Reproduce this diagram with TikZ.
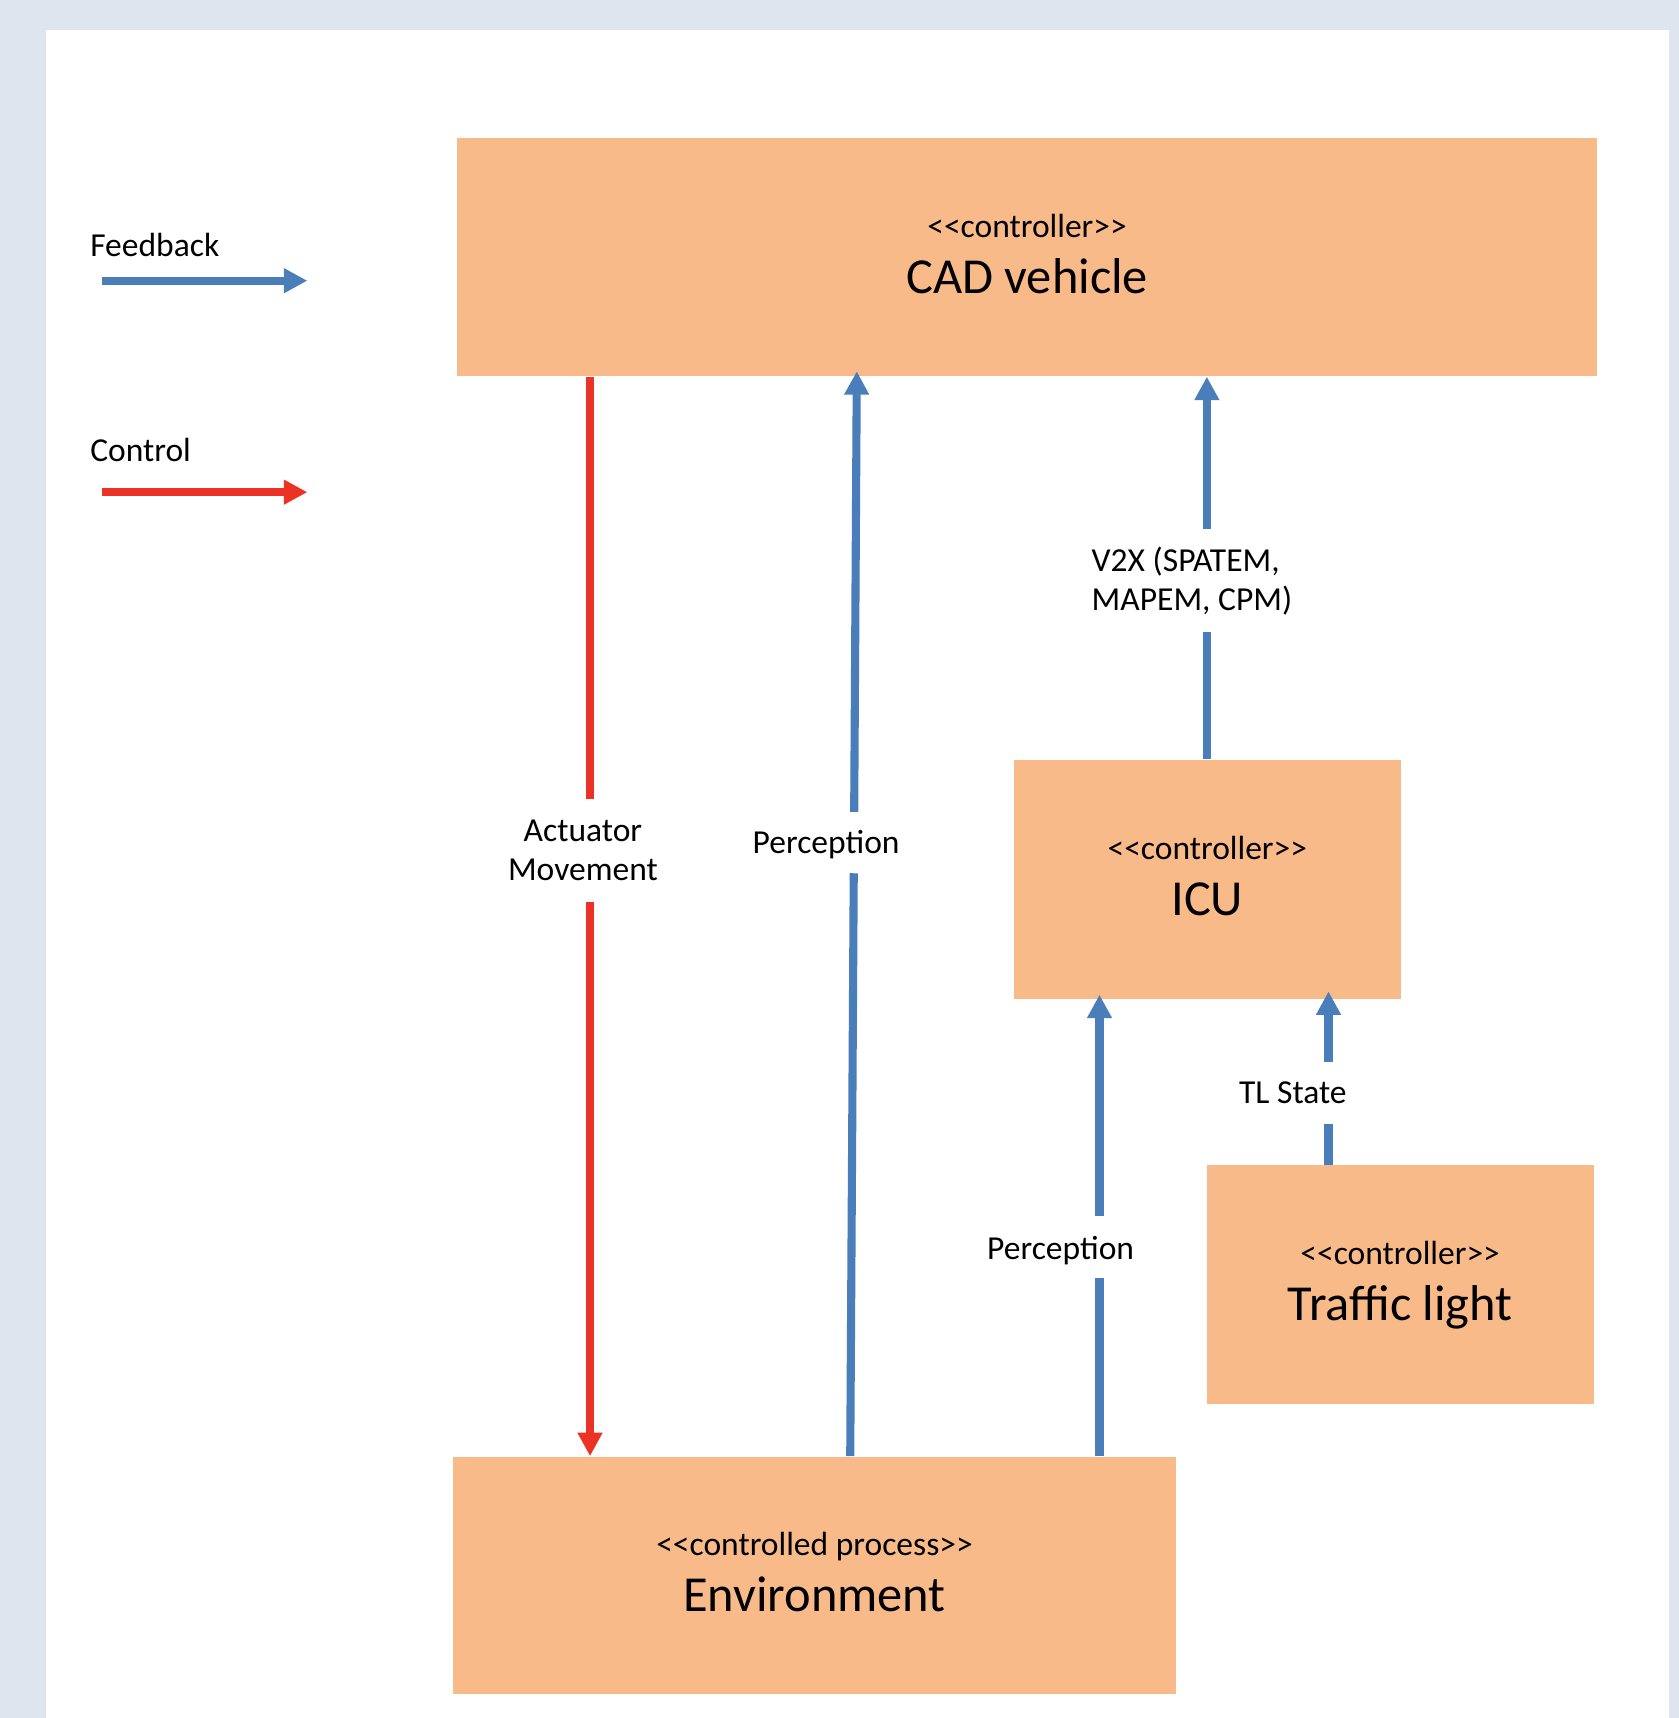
\documentclass[tikz,border=0pt]{standalone}
\usepackage{fontspec}
\setmainfont{Carlito}
\usetikzlibrary{arrows.meta,calc}
\definecolor{bgc}{RGB}{223,229,238}
\definecolor{peach}{RGB}{249,186,138}
\definecolor{fbblue}{RGB}{74,126,187}
\definecolor{ctred}{RGB}{236,50,36}
\begin{document}
\begin{tikzpicture}[x=0.5pt,y=-0.5pt,
  box/.style={fill=peach, draw=none, inner sep=0pt, anchor=north west},
  smalltxt/.style={font=\fontsize{15.3}{18}\selectfont, inner sep=0pt, anchor=base},
  bigtxt/.style={font=\fontsize{23}{27}\selectfont, inner sep=0pt, anchor=base},
  fbl/.style={draw=fbblue, line width=3.7pt},
  ctl/.style={draw=ctred, line width=3.6pt},
  arr/.style={-{Triangle[length=10.7pt,width=10.7pt]}}
]
% background and panel
\fill[bgc] (0,0) rectangle (1532,1568);
\fill[white] (42,27) rectangle (1523,1568);

% boxes
\node[box, minimum width=520pt, minimum height=108.5pt] (cad) at (417,126) {};
\node[box, minimum width=176.5pt, minimum height=109pt] (icu) at (925,693) {};
\node[box, minimum width=176.5pt, minimum height=109pt] (tl) at (1101,1063) {};
\node[box, minimum width=330pt, minimum height=108.5pt] (env) at (413,1329) {};

% box texts
\node[smalltxt] (cadst) at ([yshift=9pt]cad.center) {<{}<controller>{}>};
\node[bigtxt] (cadname) at ([yshift=-16.5pt]cad.center) {CAD vehicle};
\node[smalltxt] (icust) at ([yshift=9pt]icu.center) {<{}<controller>{}>};
\node[bigtxt] (icuname) at ([yshift=-16.5pt]icu.center) {ICU};
\node[smalltxt] (tlst) at ([yshift=9pt]tl.center) {<{}<controller>{}>};
\node[bigtxt] (tlname) at ([yshift=-16.5pt]tl.center) {Traffic light};
\node[smalltxt] (envst) at ([yshift=9pt]env.center) {<{}<controlled process>{}>};
\node[bigtxt] (envname) at ([yshift=-16.5pt]env.center) {Environment};

% legend
\node[smalltxt, anchor=base west] (fbtxt) at (82,234.2) {Feedback};
\node[smalltxt, anchor=base west] (cttxt) at (82,421.2) {Control};
\coordinate (fbA) at (92.9,256.2);
\coordinate (fbB) at (280.5,256.2);
\coordinate (ctA) at (92.9,449.2);
\coordinate (ctB) at (280.5,449.2);
\draw[fbl, arr] (fbA) -- (fbB);
\draw[ctl, arr] (ctA) -- (ctB);

% connector labels
\node[smalltxt] (act) at (532,768) {\begin{tabular}[t]{@{}c@{}}Actuator\\Movement\end{tabular}};
\node[smalltxt] (perc1) at (754,779) {Perception};
\node[smalltxt, anchor=base west] (v2x) at (996,521.6) {\begin{tabular}[t]{@{}l@{}}V2X (SPATEM,\\MAPEM, CPM)\end{tabular}};
\node[smalltxt] (perc2) at (968,1149.3) {Perception};
\node[smalltxt] (tls) at (1180,1007.3) {TL State};

% gap end coordinates
\coordinate (ra) at (538.5,729);
\coordinate (rb) at (538.5,823);
\coordinate (p1a) at (779.6,741);
\coordinate (p1b) at (779.2,797);
\coordinate (va) at (1101.5,483);
\coordinate (vb) at (1101.5,577);
\coordinate (p2a) at (1003.5,1110);
\coordinate (p2b) at (1003.5,1166.6);
\coordinate (ta) at (1212.5,969.3);
\coordinate (tb) at (1212.5,1025.5);

% control: CAD vehicle -> Environment
\draw[ctl] ($(cad.south west)+(121.5,0)$) -- (ra);
\draw[ctl, arr] (rb) -- ($(env.north west)+(125.5,0)$);

% perception: Environment -> CAD vehicle
\draw[fbl] ($(env.north west)+(363,0)$) -- (p1b);
\draw[fbl, arr] (p1a) -- ($(cad.south west)+(365,-5)$);

% V2X: ICU -> CAD vehicle
\draw[fbl] ($(icu.north west)+(176.5,0)$) -- (vb);
\draw[fbl, arr] (va) -- ($(cad.south west)+(684.5,0)$);

% perception: Environment -> ICU
\draw[fbl] ($(env.north west)+(590.5,0)$) -- (p2b);
\draw[fbl, arr] (p2a) -- ($(icu.south west)+(78.5,-4)$);

% TL state: Traffic light -> ICU
\draw[fbl] ($(tl.north west)+(111.5,0)$) -- (tb);
\draw[fbl, arr] (ta) -- ($(icu.south west)+(287.5,-7)$);
\end{tikzpicture}
\end{document}
